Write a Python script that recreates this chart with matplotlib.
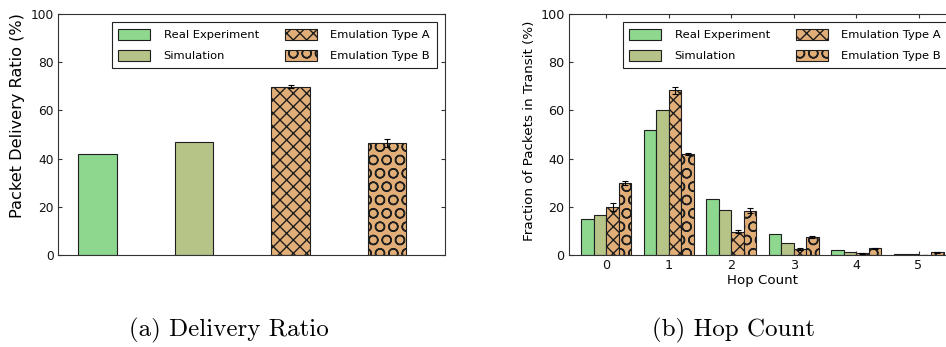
import numpy as np
import matplotlib
matplotlib.use("Agg")
import matplotlib.pyplot as plt

# ---- data ----
series = ["Real Experiment", "Simulation", "Emulation Type A", "Emulation Type B"]

delivery_ratio = [42.0, 47.0, 69.8, 46.5]
delivery_err = [0.0, 0.0, 0.6, 1.5]

hop_counts = [0, 1, 2, 3, 4, 5]
hop_real = [14.9, 51.9, 23.2, 8.6, 1.9, 0.5]
hop_sim = [16.5, 60.0, 18.7, 4.8, 1.1, 0.3]
hop_emu_a = [20.0, 68.3, 9.7, 2.4, 0.7, 0.1]
hop_emu_a_err = [1.7, 1.6, 0.7, 0.3, 0.1, 0.1]
hop_emu_b = [29.9, 41.9, 18.3, 7.3, 2.8, 1.1]
hop_emu_b_err = [1.0, 0.3, 1.0, 0.4, 0.3, 0.2]

# ---- style ----
colors = ["#8dd78f", "#b6c488", "#e2ae78", "#e2ae78"]
hatches = [None, None, "xx", "O"]
edge = "#1e1e1e"

DPI = 80
W, H = 946, 347
plt.rcParams.update({
    "font.family": "DejaVu Sans",
    "font.size": 11,
    "hatch.linewidth": 1.25,
    "axes.edgecolor": "#333333",
    "axes.linewidth": 1.0,
    "xtick.color": "#333333",
    "ytick.color": "#333333",
    "xtick.labelcolor": "#111111",
    "ytick.labelcolor": "#111111",
})

fig = plt.figure(figsize=(W / DPI, H / DPI), dpi=DPI)


def px_axes(left, top, right, bottom):
    return fig.add_axes([left / W, 1 - bottom / H, (right - left) / W, (bottom - top) / H])


def style_axes(ax, labelsize):
    ax.tick_params(direction="in", length=4, width=1, top=True, right=True,
                   labelsize=labelsize, pad=4)
    ax.set_ylim(0, 100)
    ax.set_yticks([0, 20, 40, 60, 80, 100])


def add_legend(ax):
    leg = ax.legend(ncol=2, loc="upper right", fontsize=10.3, frameon=True,
                    fancybox=False, edgecolor="#222222", framealpha=1,
                    borderaxespad=0.7, borderpad=0.6, handlelength=2.8,
                    handleheight=1.1, handletextpad=1.15, columnspacing=2.3,
                    labelspacing=0.85)
    leg.get_frame().set_linewidth(1.0)
    return leg


err_kw = dict(ecolor="black", elinewidth=1.0, capsize=3, capthick=1.0)

# ---- (a) delivery ratio ----
ax1 = px_axes(58, 14, 445, 255)
x1 = np.arange(len(series))
for i, name in enumerate(series):
    yerr = delivery_err[i] if delivery_err[i] > 0 else None
    ax1.bar(x1[i], delivery_ratio[i], width=0.4, color=colors[i], edgecolor=edge,
            linewidth=1.0, hatch=hatches[i], label=name, yerr=yerr,
            error_kw=err_kw)
style_axes(ax1, 11)
ax1.set_xlim(-0.41, 3.6)
ax1.set_xticks([])
ax1.set_ylabel("Packet Delivery Ratio (%)", fontsize=14.5)
ax1.yaxis.set_label_coords(-0.085, 0.579)
add_legend(ax1)

# ---- (b) hop count ----
ax2 = px_axes(569, 14, 956, 255)
x2 = np.array(hop_counts)
w = 0.2
hop_series = [hop_real, hop_sim, hop_emu_a, hop_emu_b]
hop_errs = [None, None, hop_emu_a_err, hop_emu_b_err]
offsets = [-1.5 * w, -0.5 * w, 0.5 * w, 1.5 * w]
for i, name in enumerate(series):
    ax2.bar(x2 + offsets[i], hop_series[i], width=w, color=colors[i], edgecolor=edge,
            linewidth=1.0, hatch=hatches[i], label=name, yerr=hop_errs[i],
            error_kw=err_kw)
style_axes(ax2, 11.5)
ax2.set_xlim(-0.6, 5.6)
ax2.set_xticks(hop_counts)
ax2.set_xlabel("Hop Count", fontsize=12, labelpad=1)
ax2.set_ylabel("Fraction of Packets in Transit (%)", fontsize=12.1)
ax2.yaxis.set_label_coords(-0.085, 0.515)
add_legend(ax2)

# ---- sub-captions ----
fig.text(229 / W, 1 - 330 / H, "(a) Delivery Ratio", family="cmr10", fontsize=22.5,
         ha="center", va="center")
fig.text(734 / W, 1 - 330 / H, "(b) Hop Count", family="cmr10", fontsize=22.5,
         ha="center", va="center")

fig.savefig("out.png", dpi=DPI)
